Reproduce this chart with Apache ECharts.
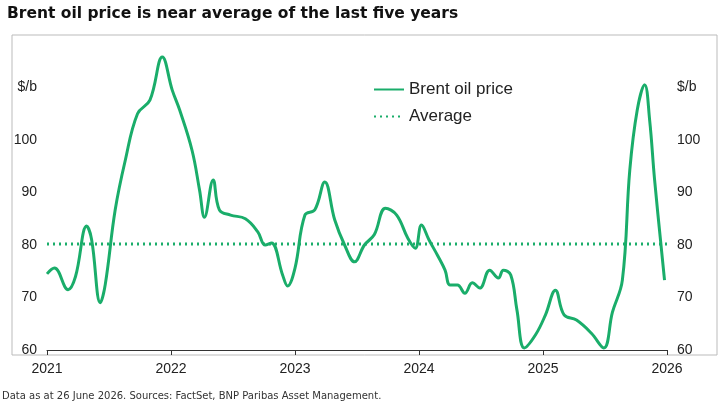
<!DOCTYPE html><html><head><meta charset="utf-8"><script src="https://cdn.jsdelivr.net/npm/echarts@6/dist/echarts.min.js"></script>
<style>html,body{margin:0;padding:0;background:#fff}#c{width:725px;height:406px}</style></head><body><div id="c"></div><script>
const dates=[2021.0,2021.06,2021.17,2021.23,2021.32,2021.36,2021.43,2021.47,2021.55,2021.63,2021.73,2021.83,2021.93,2022.01,2022.07,2022.17,2022.23,2022.27,2022.34,2022.39,2022.48,2022.6,2022.7,2022.76,2022.81,2022.9,2022.94,2023.0,2023.08,2023.16,2023.24,2023.32,2023.4,2023.48,2023.56,2023.64,2023.73,2023.82,2023.91,2023.97,2024.02,2024.08,2024.15,2024.21,2024.25,2024.31,2024.37,2024.43,2024.49,2024.57,2024.64,2024.68,2024.74,2024.79,2024.85,2024.94,2025.02,2025.1,2025.17,2025.27,2025.39,2025.49,2025.56,2025.64,2025.7,2025.76,2025.82,2025.86,2025.9,2025.98];
const prices=[74.5,75.6,71.5,74,83.6,81,69,72.5,86.7,96,105,107.6,115.8,109.5,105.7,98,90.5,85.3,92.4,86.7,85.7,85,82.5,80,80.4,74.3,72.2,75.6,85.7,86.7,92,84.8,80,76.8,80,82,87,85.7,81.3,79.4,83.8,81,78,75.2,72.4,72.4,70.8,72.8,71.8,75.2,73.7,75.2,74.3,67.6,60.4,62.9,66.7,71.4,66.7,65.7,63.2,60.4,67.2,73.3,94.3,105.7,110.5,103.8,92.4,73.3];
const average=80.2;
const green='#1aad6a';
const lbl=v=>v==110?'$/b':(v>=120?'':v);
const c=echarts.init(document.getElementById('c'));
c.setOption({animation:false,
title:{text:'Brent oil price is near average of the last five years',left:2,top:1,textStyle:{fontFamily:'DejaVu Sans',fontWeight:'bold',fontSize:15.5,color:'#111'}},
graphic:[{type:'rect',shape:{x:12,y:35,width:705,height:320},style:{fill:'none',stroke:'#bbb',lineWidth:1}},
{type:'text',left:2,top:391,style:{text:'Data as at 26 June 2026. Sources: FactSet, BNP Paribas Asset Management.',fontSize:10,fill:'#333',fontFamily:'DejaVu Sans'}}],
legend:{left:368,top:76,orient:'vertical',itemGap:10,itemWidth:30,itemStyle:{opacity:0},textStyle:{fontSize:17,color:'#222'},data:['Brent oil price','Average']},
grid:{left:47,right:58,top:35,bottom:56},
xAxis:{type:'value',min:2021,max:2026,interval:1,axisLine:{lineStyle:{color:'#333'}},axisTick:{show:true,lineStyle:{color:'#333'}},splitLine:{show:false},axisLabel:{fontSize:14,color:'#222',margin:12,formatter:v=>v}},
yAxis:[{type:'value',min:60,max:120,interval:10,position:'left',axisLine:{show:false},axisTick:{show:false},splitLine:{show:false},axisLabel:{fontSize:14,color:'#222',margin:10,formatter:lbl}},
{type:'value',min:60,max:120,interval:10,position:'right',axisLine:{show:false},axisTick:{show:false},splitLine:{show:false},axisLabel:{fontSize:14,color:'#222',margin:10,formatter:lbl}}],
series:[{name:'Brent oil price',type:'line',smooth:0.4,showSymbol:false,symbol:'none',lineStyle:{color:green,width:3},itemStyle:{color:green},data:dates.map((d,i)=>[d,prices[i]])},
{name:'Average',type:'line',showSymbol:false,symbol:'none',lineStyle:{color:green,width:3,type:[2,4]},itemStyle:{color:green},data:[[2021,average],[2026,average]]}]
});
</script></body></html>
